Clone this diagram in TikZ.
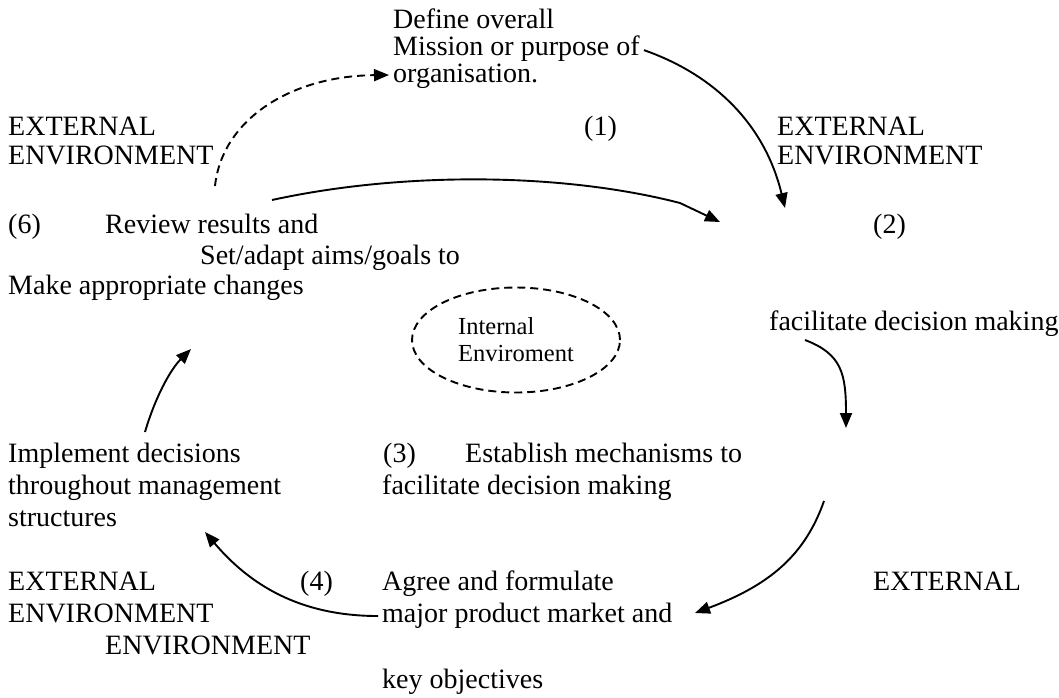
\documentclass[tikz,border=0pt]{standalone}
\usepackage{fontspec}
\setmainfont{Liberation Serif}
\usetikzlibrary{arrows.meta,shapes.geometric}
\begin{document}
\begin{tikzpicture}[x=1pt,y=-1pt,
  lbl/.style={anchor=base west,inner sep=0pt,font=\fontsize{28}{32}\selectfont},
  conn/.style={line width=1.9pt,-{Triangle[length=15pt,width=12pt]}},
  dconn/.style={conn,dash pattern=on 8pt off 5pt},
  innerenv/.style={draw,ellipse,line width=1.9pt,dash pattern=on 8pt off 5pt,
    minimum width=208pt,minimum height=105pt,inner sep=0pt,align=left,
    font=\fontsize{24.5}{27}\selectfont}]
\useasboundingbox (0,0) rectangle (1059,697);

% top block
\node[lbl] (d1) at (393,28) {Define overall};
\node[lbl] (d2) at (393,55) {Mission or purpose of};
\node[lbl] (d3) at (393,82) {organisation.};
\node[lbl] (n1) at (584,135) {(1)};
\node[lbl] (extTL) at (8,135) {EXTERNAL};
\node[lbl] (envTL) at (8,164) {ENVIRONMENT};
\node[lbl] (extTR) at (777,135) {EXTERNAL};
\node[lbl] (envTR) at (777,164) {ENVIRONMENT};

% middle
\node[lbl] (n6) at (8,233) {(6)};
\node[lbl] (r1) at (105,233) {Review results and};
\node[lbl] (r2) at (200,264) {Set/adapt aims/goals to};
\node[lbl] (r3) at (8,294) {Make appropriate changes};
\node[lbl] (n2) at (873,233) {(2)};
\node[lbl] (f1) at (769,330) {facilitate decision making};
\node[innerenv] (int) at (516,340) {Internal\\Enviroment};

% lower
\node[lbl] (m1) at (8,462) {Implement decisions};
\node[lbl] (m2) at (8,494) {throughout management};
\node[lbl] (m3) at (8,526) {structures};
\node[lbl] (n3) at (383,462) {(3)};
\node[lbl] (e1) at (465,462) {Establish mechanisms to};
\node[lbl] (e2) at (382,494) {facilitate decision making};
\node[lbl] (extBL) at (8,590) {EXTERNAL};
\node[lbl] (envBL) at (8,622) {ENVIRONMENT};
\node[lbl] (envBL2) at (105,654) {ENVIRONMENT};
\node[lbl] (n4) at (300,590) {(4)};
\node[lbl] (a1) at (382,590) {Agree and formulate};
\node[lbl] (a2) at (382,622) {major product market and};
\node[lbl] (a3) at (382,688) {key objectives};
\node[lbl] (extBR) at (873,590) {EXTERNAL};

% connector ends
\coordinate (c1s) at (215,186); \coordinate (c1e) at ([xshift=-4pt,yshift=7pt]d3.base west);
\coordinate (c2s) at ([xshift=4pt,yshift=-2pt]d2.east);  \coordinate (c2e) at (785,208);
\coordinate (c3s) at (272,200); \coordinate (c3m) at (680,203); \coordinate (c3e) at (720,222);
\coordinate (c4s) at (805,340); \coordinate (c4e) at (846,428);
\coordinate (c5s) at (824,501); \coordinate (c5e) at (695,613);
\coordinate (c6s) at ([xshift=-4pt,yshift=6pt]a2.base west); \coordinate (c6e) at (205,532);
\coordinate (c7s) at (145,432); \coordinate (c7e) at (191,349);

\draw[dconn] (c1s) .. controls (222,120) and (290,76) .. (c1e);
\draw[conn] (c2s) .. controls (715,75) and (765,125) .. (c2e);
\draw[conn] (c3s) .. controls (400,172) and (560,172) .. (c3m) -- (c3e);
\draw[conn] (c4s) .. controls (842,354) and (846,374) .. (c4e);
\draw[conn] (c5s) .. controls (805,555) and (770,585) .. (c5e);
\draw[conn] (c6s) .. controls (300,616) and (250,585) .. (c6e);
\draw[conn] (c7s) .. controls (155,398) and (170,370) .. (c7e);
\end{tikzpicture}
\end{document}
